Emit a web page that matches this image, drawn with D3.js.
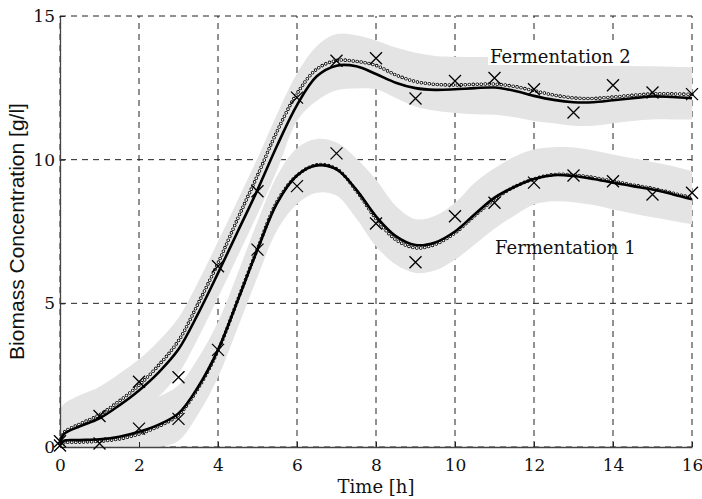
<!DOCTYPE html>
<html>
<head>
<meta charset="utf-8">
<script src="https://cdn.jsdelivr.net/npm/d3@7"></script>
<style>
  body { margin: 0; background: #fff; }
  svg { display: block; }
</style>
</head>
<body>
<div id="chart"></div>
<script>
// model time grid [h]
const modelTime = [0, 0.1, 0.5, 1, 1.5, 2, 2.5, 3, 3.5, 4, 4.5, 5, 5.5, 6, 6.5, 7, 7.5, 8,
  8.5, 9, 9.5, 10, 10.5, 11, 11.5, 12, 12.5, 13, 13.5, 14, 14.5, 15, 15.5, 16];

// Fermentation 2: fitted curve, model (circles), uncertainty band
const fit2 = [0.15, 0.45, 0.72, 1.0, 1.45, 1.97, 2.6, 3.4, 4.65, 6.05, 7.5, 8.95, 10.5, 11.9,
  12.9, 13.27, 13.25, 12.98, 12.68, 12.49, 12.43, 12.45, 12.49, 12.51, 12.4, 12.22, 12.08,
  12.0, 12.0, 12.07, 12.14, 12.2, 12.18, 12.14];
const model2 = [0.15, 0.5, 0.8, 1.12, 1.6, 2.15, 2.85, 3.7, 5.0, 6.4, 7.95, 9.45, 11.0, 12.3,
  13.15, 13.45, 13.42, 13.28, 12.95, 12.72, 12.62, 12.6, 12.62, 12.63, 12.55, 12.4, 12.25,
  12.15, 12.13, 12.18, 12.24, 12.29, 12.29, 12.27];
const band2Upper = [1.3, 1.5, 1.8, 2.1, 2.55, 3.05, 3.7, 4.5, 5.75, 7.15, 8.6, 10.05, 11.6, 13.0,
  13.95, 14.37, 14.33, 14.15, 13.9, 13.72, 13.61, 13.58, 13.57, 13.56, 13.45, 13.35, 13.3,
  13.27, 13.26, 13.27, 13.26, 13.25, 13.23, 13.21];
const band2Lower = [0, 0, 0, 0.15, 0.6, 1.1, 1.75, 2.55, 3.8, 5.2, 6.65, 8.1, 9.65, 11.35,
  12.05, 12.42, 12.48, 12.45, 12.15, 11.85, 11.7, 11.62, 11.58, 11.56, 11.48, 11.35, 11.27,
  11.18, 11.18, 11.27, 11.35, 11.4, 11.4, 11.4];

// Fermentation 1
const fit1 = [0.1, 0.22, 0.24, 0.27, 0.36, 0.53, 0.78, 1.17, 2.1, 3.38, 5.1, 6.87, 8.5, 9.45,
  9.8, 9.66, 8.96, 8.03, 7.34, 7.03, 7.12, 7.5, 8.1, 8.68, 9.05, 9.33, 9.46, 9.43, 9.33, 9.2,
  9.08, 8.96, 8.8, 8.62];
const model1 = [0.1, 0.15, 0.17, 0.2, 0.28, 0.45, 0.72, 1.12, 2.05, 3.35, 5.12, 6.9, 8.55, 9.45,
  9.82, 9.68, 8.92, 7.95, 7.22, 6.93, 7.05, 7.45, 8.05, 8.62, 9.05, 9.33, 9.48, 9.47, 9.38,
  9.25, 9.12, 9.0, 8.84, 8.67];
const band1Upper = [1.05, 1.17, 1.2, 1.22, 1.3, 1.48, 1.75, 2.15, 3.1, 4.35, 6.05, 7.85, 9.45,
  10.4, 10.72, 10.6, 10.05, 9.3, 8.4, 7.93, 8.05, 8.5, 9.2, 9.7, 10.1, 10.35, 10.43, 10.42,
  10.32, 10.18, 10.05, 9.92, 9.78, 9.6];
const band1Lower = [0, 0, 0, 0, 0, 0, 0, 0.22, 1.15, 2.43, 4.15, 5.92, 7.55, 8.45, 8.85, 8.75,
  7.95, 6.99, 6.35, 6.06, 6.15, 6.52, 7.05, 7.6, 8.05, 8.44, 8.55, 8.52, 8.42, 8.27, 8.13,
  8.0, 7.87, 7.74];

// measurements (crosses)
const sampleTime = [0, 1, 2, 3, 4, 5, 6, 7, 8, 9, 10, 11, 12, 13, 14, 15, 16];
const meas2 = [0.2, 1.08, 2.27, 2.43, 6.29, 8.9, 12.16, 13.44, 13.53, 12.13, 12.74, 12.84,
  12.45, 11.64, 12.59, 12.34, 12.28];
const meas1 = [0.05, 0.12, 0.64, 0.98, 3.38, 6.87, 9.08, 10.22, 7.78, 6.43, 8.03, 8.5, 9.2,
  9.45, 9.25, 8.79, 8.85];

const xTicks = [0, 2, 4, 6, 8, 10, 12, 14, 16];
const yTicks = [0, 5, 10, 15];

const W = 702, H = 499;
const margin = { top: 16, right: 10, bottom: 52, left: 60 };
const serif = "'DejaVu Serif', serif";

const svg = d3.select("#chart").append("svg")
  .attr("width", W)
  .attr("height", H);

svg.append("rect").attr("width", W).attr("height", H).attr("fill", "#fff");

const x = d3.scaleLinear().domain([0, 16]).range([margin.left, W - margin.right]);
const y = d3.scaleLinear().domain([0, 15]).range([H - margin.bottom, margin.top]);

svg.append("clipPath").attr("id", "plot")
  .append("rect")
  .attr("x", x(0)).attr("y", y(15))
  .attr("width", x(16) - x(0)).attr("height", y(0) - y(15));

// dashed grid (also forms the top and right frame)
const grid = svg.append("g").attr("stroke", "#222").attr("stroke-width", 1)
  .attr("stroke-dasharray", "6,5").attr("fill", "none");
grid.selectAll(".gx").data(xTicks).join("line")
  .attr("x1", d => x(d)).attr("x2", d => x(d))
  .attr("y1", y(0)).attr("y2", y(15));
grid.selectAll(".gy").data(yTicks).join("line")
  .attr("x1", x(0)).attr("x2", x(16))
  .attr("y1", d => y(d)).attr("y2", d => y(d));

const curve = d3.curveCatmullRom.alpha(0.5);
const plot = svg.append("g").attr("clip-path", "url(#plot)");

// uncertainty bands
const bandArea = (up, lo) => d3.area()
  .x((d, i) => x(modelTime[i]))
  .y0((d, i) => y(lo[i]))
  .y1((d, i) => y(up[i]))
  .curve(curve)(modelTime);

plot.append("path").attr("d", bandArea(band1Upper, band1Lower)).attr("fill", "#e4e4e4");
plot.append("path").attr("d", bandArea(band2Upper, band2Lower)).attr("fill", "#e4e4e4");

// axes
const xAxis = d3.axisBottom(x).tickValues(xTicks).tickSizeInner(-5).tickSizeOuter(0).tickPadding(12);
const yAxis = d3.axisLeft(y).tickValues(yTicks).tickSizeInner(-5).tickSizeOuter(0).tickPadding(5);

const gx = svg.append("g").attr("transform", `translate(0,${y(0)})`).call(xAxis);
const gy = svg.append("g").attr("transform", `translate(${x(0)},0)`).call(yAxis);
[gx, gy].forEach(g => {
  g.select(".domain").attr("stroke", "#444").attr("stroke-width", 1.3);
  g.selectAll(".tick line").attr("stroke", "#222");
  g.selectAll(".tick text").attr("fill", "#111")
    .style("font-family", serif).style("font-size", "17px");
});

// curves
const line = vals => d3.line()
  .x((d, i) => x(modelTime[i]))
  .y((d, i) => y(vals[i]))
  .curve(curve)(modelTime);

// model curves drawn as chains of small open circles
[model1, model2].forEach(vals => {
  svg.append("path").attr("d", line(vals)).attr("fill", "none")
    .attr("stroke", "#000").attr("stroke-width", 3.6)
    .attr("stroke-linecap", "round").attr("stroke-dasharray", "0,4");
  svg.append("path").attr("d", line(vals)).attr("fill", "none")
    .attr("stroke", "#fff").attr("stroke-width", 1.9)
    .attr("stroke-linecap", "round").attr("stroke-dasharray", "0,4");
});

[fit1, fit2].forEach(vals => {
  svg.append("path").attr("d", line(vals)).attr("fill", "none")
    .attr("stroke", "#000").attr("stroke-width", 2.6);
});

// measurement crosses
const s = 6;
[meas1, meas2].forEach(vals => {
  svg.append("g").selectAll("path").data(sampleTime).join("path")
    .attr("d", (d, i) => {
      const cx = x(d), cy = y(vals[i]);
      return `M${cx - s},${cy - s}L${cx + s},${cy + s}M${cx - s},${cy + s}L${cx + s},${cy - s}`;
    })
    .attr("stroke", "#000").attr("stroke-width", 1.3).attr("fill", "none");
});

// labels
svg.append("rect").attr("x", 488).attr("y", 44).attr("width", 149).attr("height", 21)
  .attr("fill", "#fff");
svg.append("text").attr("x", 490).attr("y", 63)
  .style("font-family", serif).style("font-size", "18px").attr("fill", "#111")
  .text("Fermentation 2");
svg.append("text").attr("x", 495).attr("y", 254)
  .style("font-family", serif).style("font-size", "18px").attr("fill", "#111")
  .text("Fermentation 1");

svg.append("text").attr("x", (x(0) + x(16)) / 2).attr("y", 493)
  .attr("text-anchor", "middle")
  .style("font-family", serif).style("font-size", "18px").attr("fill", "#111")
  .text("Time [h]");

svg.append("text")
  .attr("transform", `translate(24,${(y(0) + y(15)) / 2}) rotate(-90)`)
  .attr("text-anchor", "middle")
  .style("font-family", "'Liberation Sans', Arial, sans-serif").style("font-size", "21px")
  .attr("fill", "#111")
  .text("Biomass Concentration [g/l]");
</script>
</body>
</html>
